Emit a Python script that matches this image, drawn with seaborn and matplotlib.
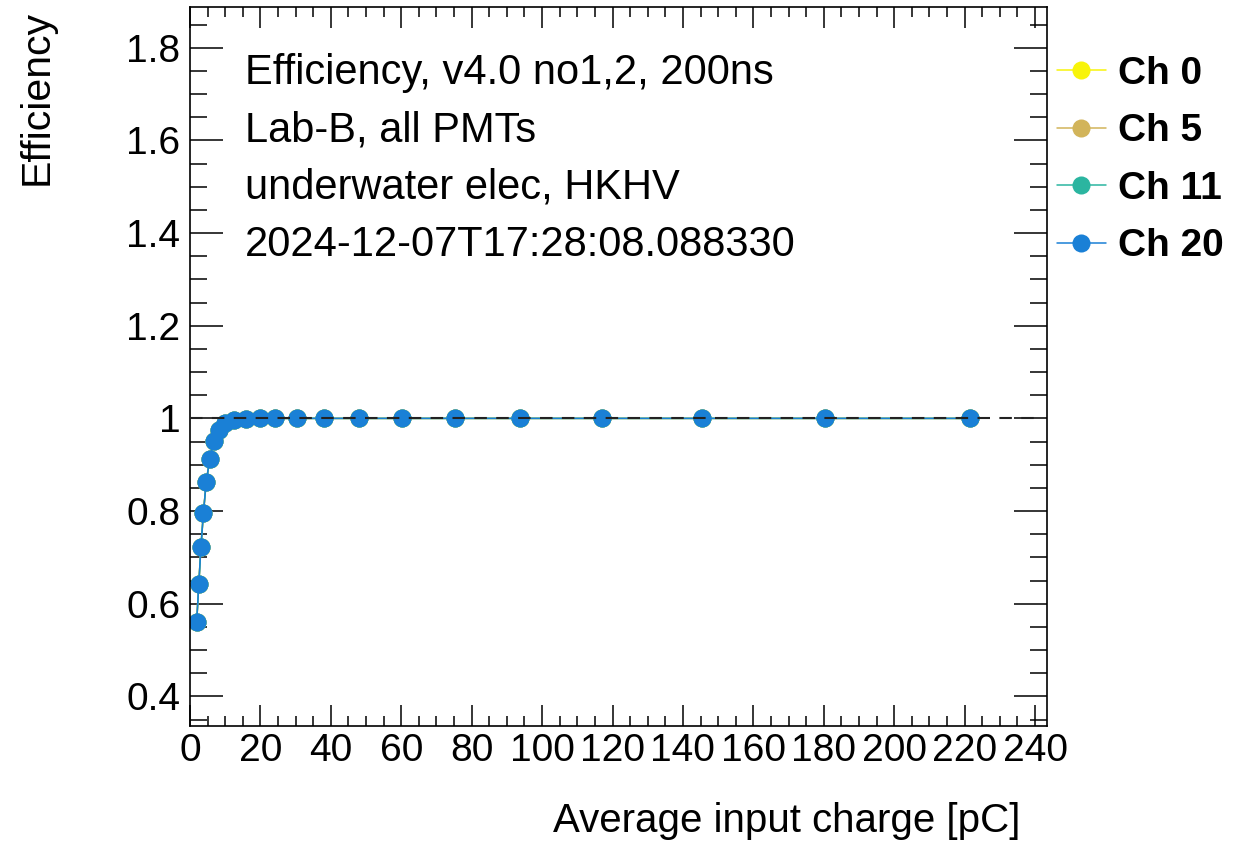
import numpy as np
import pandas as pd
import matplotlib
matplotlib.use("Agg")
import matplotlib.pyplot as plt
import seaborn as sns
from matplotlib.ticker import MultipleLocator, AutoMinorLocator, FuncFormatter


# DATA

channels = ["Ch 0", "Ch 5", "Ch 11", "Ch 20"]
colors = ["#f8f40a", "#d2b45a", "#2bb5a0", "#1a80d6"]

charge = [1.9, 2.5, 3.1, 3.8, 4.6, 5.6, 6.7, 8.1, 9.9, 12.4, 15.8, 19.9,
          24.1, 30.5, 38.1, 48.1, 60.1, 75.3, 93.7, 116.9, 145.4, 180.3, 221.5]
efficiency = [0.561, 0.642, 0.722, 0.795, 0.862, 0.912, 0.951, 0.974, 0.990,
              0.997, 0.999, 1.0, 1.0, 1.0, 1.0, 1.0, 1.0, 1.0, 1.0, 1.0,
              1.0, 1.0, 1.0]

ref_level = 1.0
ref_range = [0, 240]

info_lines = ["Efficiency, v4.0 no1,2, 200ns",
              "Lab-B, all PMTs",
              "underwater elec, HKHV",
              "2024-12-07T17:28:08.088330"]

rows = []
for ch in channels:
    for q, e in zip(charge, efficiency):
        rows.append({"channel": ch, "charge": q, "eff": e})
df = pd.DataFrame(rows)


# STYLE

sns.set_style("ticks")
plt.rcParams["font.family"] = ["Liberation Sans", "DejaVu Sans"]
plt.rcParams["text.color"] = "black"
plt.rcParams["axes.labelcolor"] = "black"
plt.rcParams["xtick.color"] = "black"
plt.rcParams["ytick.color"] = "black"

fig = plt.figure(figsize=(12.5, 8.49), dpi=100)
ax = fig.add_axes([190 / 1250, 1 - 726 / 849, 857 / 1250, 719 / 849])

sns.lineplot(data=df, x="charge", y="eff", hue="channel", hue_order=channels,
             palette=colors, marker="o", markersize=13, markeredgewidth=0,
             linewidth=1.1, estimator=None, sort=False, legend=False, ax=ax)

ax.plot(ref_range, [ref_level, ref_level], color="#222222", lw=1.5,
        ls=(0, (6, 4.5)), zorder=5)

ax.set_xlim(0, 243.4)
ax.set_ylim(0.336, 1.888)

ax.xaxis.set_major_locator(MultipleLocator(20))
ax.xaxis.set_minor_locator(AutoMinorLocator(4))
ax.yaxis.set_major_locator(MultipleLocator(0.2))
ax.yaxis.set_minor_locator(AutoMinorLocator(4))
ax.yaxis.set_major_formatter(FuncFormatter(lambda v, p: f"{v:g}"))
ax.xaxis.set_major_formatter(FuncFormatter(lambda v, p: f"{v:g}"))

ax.tick_params(axis="both", which="both", direction="in", top=True, right=True,
               width=1.1, color="black", labelcolor="black", labelsize=28)
ax.tick_params(axis="y", which="major", length=23.8, pad=7)
ax.tick_params(axis="y", which="minor", length=12.2)
ax.tick_params(axis="x", which="major", length=15, pad=5)
ax.tick_params(axis="x", which="minor", length=7.2)
for s in ax.spines.values():
    s.set_linewidth(1.2)
    s.set_color("black")

ax.set_xlabel("Average input charge [pC]", fontsize=29, loc="right")
ax.xaxis.set_label_coords(0.9685, -0.106)
ax.set_ylabel("Efficiency", fontsize=29.5, loc="top")
ax.yaxis.set_label_coords(-0.157, 0.996)

# info text
for i, line in enumerate(info_lines):
    fig.text(245 / 1250, 1 - (73 + 57.3 * i) / 849, line, fontsize=30,
             va="center", ha="left")

# legend outside right
handles = ax.lines[:len(channels)]
leg = fig.legend(handles, channels, loc="upper left",
                 bbox_to_anchor=(1057 / 1250, 1 - 56 / 849),
                 frameon=False, borderpad=0, borderaxespad=0,
                 handlelength=1.25, handletextpad=0.33, labelspacing=0.55,
                 numpoints=1, prop={"weight": "bold", "size": 28})

fig.savefig("out.png", dpi=100)
